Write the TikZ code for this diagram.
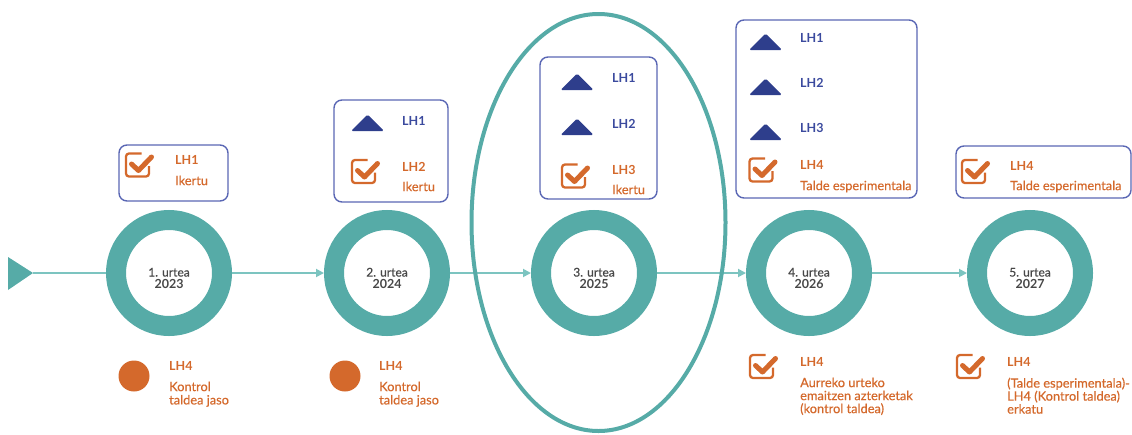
\documentclass[tikz,border=0pt]{standalone}
\usepackage{fontspec}
\setmainfont{Lato}[UprightFeatures={FakeBold=0.45}]
\usetikzlibrary{arrows.meta,shapes.geometric,positioning}
\definecolor{ringteal}{HTML}{56ABA7}
\definecolor{flowteal}{HTML}{7CC4C0}
\definecolor{boxblue}{HTML}{5A67B4}
\definecolor{lhnavy}{HTML}{2E3E8C}
\definecolor{lhblue}{HTML}{3B4A9E}
\definecolor{lhorange}{HTML}{D4692C}
\definecolor{yeargray}{HTML}{474747}

\begin{document}
\begin{tikzpicture}[x=1pt,y=-1pt,>={Triangle[length=8pt,width=8pt]},
  year/.style={circle,draw=ringteal,line width=20pt,minimum size=106pt,inner sep=0pt,
    label={[yeartext]center:#1}},
  yeartext/.style={align=center,text=yeargray,yshift=-5pt,font=\fontsize{12}{11.5}\selectfont},
  flow/.style={draw=flowteal,line width=1.8pt},
  panel/.style={draw=boxblue,line width=1.4pt,rounded corners=8pt,inner sep=0pt},
  lhb/.style={anchor=base west,inner sep=0pt,text=lhblue,font=\bfseries\fontsize{12.5}{14}\selectfont},
  lho/.style={lhb,text=lhorange},
  desc/.style={anchor=north west,inner sep=0pt,align=left,text=lhorange,
    font=\fontsize{12.8}{13.3}\selectfont},
  dot/.style={circle,fill=lhorange,minimum size=31pt,inner sep=0pt},
  tri/.pic={\fill[lhnavy,rounded corners=1.5pt] (-16.5,8) -- (0,-8.5) -- (16.5,8) -- cycle;},
  chk/.pic={
    \draw[lhorange,line width=2.3pt,rounded corners=3pt]
      (4,-11.5) -- (-11.5,-11.5) -- (-11.5,11.5) -- (11.5,11.5) -- (11.5,1);
    \draw[lhorange,line width=5pt,line cap=round,line join=round]
      (-6,-1) -- (1,5.5) -- (14,-8);}
  ]
  \useasboundingbox (0,0) rectangle (1132,434);

  % time line
  \fill[ringteal] (8,257) -- (33,273) -- (8,290) -- cycle;
  \coordinate (s0) at (33,273);
  \node[year={1. urtea\\\textbf{\fontsize{12.5}{11.5}\selectfont 2023}}] (y1) at (169,273) {};
  \node[year={2. urtea\\\textbf{\fontsize{12.5}{11.5}\selectfont 2024}}] (y2) at (387,273) {};
  \node[year={3. urtea\\\textbf{\fontsize{12.5}{11.5}\selectfont 2025}}] (y3) at (594,273) {};
  \node[year={4. urtea\\\textbf{\fontsize{12.5}{11.5}\selectfont 2026}}] (y4) at (809,273) {};
  \node[year={5. urtea\\\textbf{\fontsize{12.5}{11.5}\selectfont 2027}}] (y5) at (1030,273) {};
  \draw[flow] (s0) -- (y1);
  \draw[flow,->] (y1) -- (y2);
  \draw[flow,->] (y2) -- (y3);
  \draw[flow,->] (y3) -- (y4);
  \draw[flow,->] (y4) -- (y5);
  \node[draw=ringteal,line width=4pt,ellipse,minimum width=254pt,minimum height=417pt,
    inner sep=0pt] (hl) at (598.5,222.5) {};

  % panels above
  \node[panel,minimum width=109pt,minimum height=56pt] (p1) at (173.5,173) {};
  \pic at (137.5,165) {chk};
  \node[lho] (p1a) at (175,164.5) {LH1};
  \node[desc] (p1b) at (175,175.5) {Ikertu};

  \node[panel,minimum width=114pt,minimum height=102pt] (p2) at (391,151) {};
  \pic at (367.5,123) {tri};
  \node[lhb] (p2a) at (402,125.5) {LH1};
  \pic at (363.5,171.5) {chk};
  \node[lho] (p2b) at (402,171.5) {LH2};
  \node[desc] (p2c) at (402,181.5) {Ikertu};

  \node[panel,minimum width=117pt,minimum height=142pt] (p3) at (598.5,128) {};
  \pic at (577,82) {tri};
  \node[lhb] (p3a) at (612,82.5) {LH1};
  \pic at (577,127) {tri};
  \node[lhb] (p3b) at (612,128.5) {LH2};
  \pic at (573.5,176) {chk};
  \node[lho] (p3c) at (612,174.5) {LH3};
  \node[desc] (p3d) at (612,184.5) {Ikertu};

  \node[panel,minimum width=181pt,minimum height=178pt] (p4) at (826.5,109) {};
  \pic at (765.5,42) {tri};
  \node[lhb] (p4a) at (800,42.5) {LH1};
  \pic at (765.5,87) {tri};
  \node[lhb] (p4b) at (800,87.5) {LH2};
  \pic at (765.5,132) {tri};
  \node[lhb] (p4c) at (800,132.5) {LH3};
  \pic at (761,170) {chk};
  \node[lho] (p4d) at (800,169.5) {LH4};
  \node[desc] (p4e) at (800,180.5) {Talde esperimentala};

  \node[panel,minimum width=175pt,minimum height=52pt] (p5) at (1043.5,172) {};
  \pic at (973.5,171.5) {chk};
  \node[lho] (p5a) at (1010,170.5) {LH4};
  \node[desc] (p5b) at (1010,180.5) {Talde esperimentala};

  % notes below
  \node[dot] (m1) at (134,376) {};
  \node[lho] (m1a) at (169,370.5) {LH4};
  \node[desc] (m1b) at (169,381.5) {Kontrol\\taldea jaso};
  \node[dot] (m2) at (345,376) {};
  \node[lho] (m2a) at (379,370.5) {LH4};
  \node[desc] (m2b) at (379,381.5) {Kontrol\\taldea jaso};
  \pic at (761.5,366.5) {chk};
  \node[lho] (m4a) at (800,366.5) {LH4};
  \node[desc,font=\fontsize{12.8}{13}\selectfont] (m4b) at (800,377.5)
    {Aurreko urteko\\emaitzen azterketak\\(kontrol taldea)};
  \pic at (968.5,366.5) {chk};
  \node[lho] (m5a) at (1007,366.5) {LH4};
  \node[desc,font=\fontsize{12.8}{13}\selectfont] (m5b) at (1007,377.5)
    {(Talde esperimentala)-\\LH4 (Kontrol taldea)\\erkatu};
\end{tikzpicture}
\end{document}
